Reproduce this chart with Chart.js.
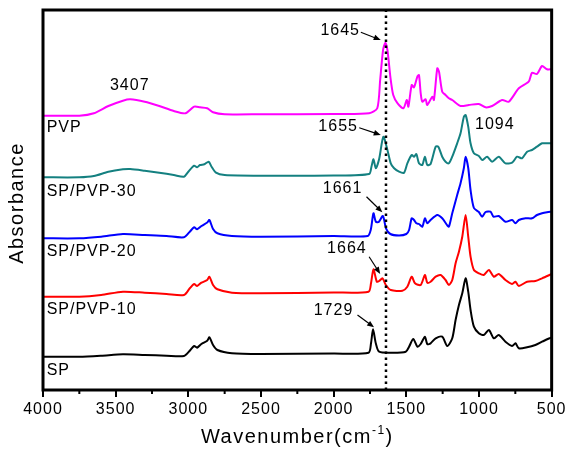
<!DOCTYPE html>
<html>
<head>
<meta charset="utf-8">
<script src="https://cdn.jsdelivr.net/npm/chart.js@4.4.1/dist/chart.umd.min.js"></script>
<style>
  html, body { margin: 0; padding: 0; background: #fff; }
</style>
</head>
<body>
<canvas id="ftir" width="568" height="457"></canvas>
<script>
// ---- data (wavenumber in cm-1, absorbance in stacked arbitrary units) ----
const xTickLabels = [4000, 3500, 3000, 2500, 2000, 1500, 1000, 500];
const xMinorTicks = [3750, 3250, 2750, 2250, 1750, 1250, 750];

const pvpWn  = [4000, 3750, 3650, 3550, 3450, 3400, 3300, 3200, 3100, 3020, 2960, 2920, 2870, 2830, 2750, 2500, 2000, 1756, 1700, 1680, 1660, 1645, 1630, 1610, 1590, 1560, 1520, 1497, 1486, 1463, 1447, 1424, 1413, 1401, 1390, 1367, 1356, 1321, 1310, 1287, 1275, 1253, 1230, 1207, 1184, 1127, 1070, 1001, 955, 910, 841, 795, 726, 658, 635, 601, 566, 532, 500];
const pvpAbs = [274.3, 274.3, 276.7, 284, 289.3, 290.7, 288.3, 284, 279, 276.7, 283.3, 282.7, 281.7, 277.7, 275.7, 275.7, 276, 276.7, 281.7, 310, 340, 347.3, 340, 313.3, 295, 286.7, 281.7, 290, 283.3, 305, 302.7, 313.3, 315, 296.7, 288.3, 290.7, 285, 293.3, 290, 321.7, 318.3, 298.3, 295, 291.7, 290, 284, 285, 286, 282.7, 284, 290, 288.3, 301.7, 308.3, 317.3, 316, 324, 320.7, 320.7];

const pvp30Wn  = [4000, 3750, 3650, 3550, 3450, 3400, 3300, 3200, 3100, 3030, 3000, 2960, 2940, 2920, 2890, 2860, 2840, 2810, 2750, 2500, 2000, 1756, 1740, 1726, 1710, 1687, 1658, 1630, 1607, 1584, 1550, 1516, 1493, 1463, 1447, 1431, 1413, 1390, 1372, 1356, 1333, 1298, 1280, 1253, 1230, 1207, 1184, 1150, 1127, 1104, 1092, 1074, 1058, 1035, 1001, 978, 944, 910, 864, 818, 772, 738, 704, 669, 635, 601, 566, 532, 500];
const pvp30Abs = [212.7, 212.7, 214, 218.3, 220.7, 221, 219.3, 217.3, 215, 213.3, 218.3, 224.3, 222.7, 225, 225.7, 228.3, 223.3, 217.3, 215, 214.3, 214.5, 216, 223.3, 230.7, 221.7, 231, 253.3, 240, 226.7, 221.7, 218.3, 217.3, 226.7, 235, 233.3, 236, 226.7, 225, 233.3, 225, 226, 243.3, 243.3, 233.3, 228.3, 226.7, 233.3, 246.7, 256.7, 273.3, 275, 263.3, 246.7, 236.7, 234, 230, 233.3, 228.3, 233.3, 226.7, 227.3, 233.3, 231.7, 238.3, 240, 243.3, 246.7, 246.7, 246.7];

const pvp20Wn  = [4000, 3750, 3600, 3450, 3300, 3150, 3030, 2990, 2960, 2940, 2910, 2870, 2855, 2830, 2800, 2700, 2500, 2000, 1766, 1745, 1726, 1710, 1690, 1661, 1640, 1610, 1550, 1500, 1481, 1463, 1447, 1431, 1413, 1390, 1372, 1356, 1333, 1287, 1253, 1220, 1207, 1184, 1150, 1127, 1104, 1092, 1074, 1058, 1035, 1001, 978, 955, 921, 900, 864, 818, 772, 749, 726, 680, 635, 601, 566, 532, 500];
const pvp20Abs = [151.7, 151.7, 153.3, 156, 155, 154, 152.7, 158.3, 162.7, 160.7, 164, 167.5, 170, 161, 156.7, 154, 153.3, 154, 154, 160, 176.7, 168.3, 168, 174, 161.7, 156, 154.5, 156, 160, 171.7, 170, 166.7, 166, 163.3, 171.7, 166.7, 170, 175, 171.7, 165, 163.3, 176.7, 195, 206.7, 222, 233.3, 222, 200, 182, 178, 173.3, 178, 178.3, 173.3, 174, 168.3, 170, 166.7, 170, 171.7, 171.7, 175, 176.7, 177.7, 178.3];

const pvp10Wn  = [4000, 3750, 3600, 3450, 3300, 3150, 3030, 2990, 2960, 2940, 2910, 2870, 2855, 2830, 2800, 2700, 2500, 2000, 1760, 1743, 1726, 1703, 1687, 1664, 1641, 1607, 1527, 1493, 1463, 1440, 1401, 1372, 1356, 1333, 1298, 1264, 1230, 1207, 1184, 1161, 1138, 1115, 1092, 1074, 1058, 1035, 1001, 967, 932, 898, 864, 818, 772, 749, 726, 669, 612, 566, 500];
const pvp10Abs = [93.3, 93.3, 95, 98.3, 97.3, 96, 95, 101.7, 106, 104, 107.3, 110, 113.3, 105, 100.7, 97.3, 96.7, 97.5, 98.3, 106.7, 120.7, 108.3, 109, 111.7, 105, 100, 99.3, 103.3, 113.3, 106.7, 105, 115, 107.3, 108.3, 113.3, 115, 110, 105, 110, 126.7, 138.3, 153.3, 175, 153.3, 133.3, 120, 116.7, 115, 120, 113.3, 116, 110, 106, 108.3, 104, 108.3, 109, 111.7, 116];

const spWn  = [4000, 3750, 3600, 3450, 3300, 3150, 3030, 2990, 2960, 2940, 2910, 2870, 2855, 2830, 2800, 2700, 2500, 2000, 1760, 1743, 1729, 1710, 1687, 1595, 1504, 1481, 1452, 1424, 1401, 1372, 1356, 1333, 1298, 1253, 1218, 1184, 1161, 1138, 1115, 1092, 1074, 1058, 1035, 1001, 967, 932, 898, 864, 818, 772, 749, 726, 669, 612, 566, 500];
const spAbs = [33.3, 33.3, 34.3, 35.7, 35, 34.3, 34, 39.3, 44, 42.3, 46, 49.3, 52.7, 45, 40, 36.7, 36, 36.5, 37.3, 46.7, 60.7, 46.7, 38.3, 37.3, 38.3, 43.3, 51, 43.3, 46, 53.3, 46, 46.7, 51.7, 53.3, 44, 51.7, 70, 85, 96.7, 111.7, 98.3, 80, 63.3, 56.7, 55, 60, 51.7, 55, 48.3, 44, 46.7, 41.7, 42.7, 45, 48.3, 52.7];

const markerWn = 1640;

const seriesNames  = ['PVP', 'SP/PVP-30', 'SP/PVP-20', 'SP/PVP-10', 'SP'];
const seriesColors = ['#ff00ff', '#148080', '#0000ff', '#ff0000', '#000000'];
const nameWn  = [3975, 3975, 3975, 3975, 3975];
const nameAbs = [262, 198.3, 138.3, 80.7, 19.3];

// peak labels: text, text centre, arrow start/end (null = no arrow)
const peakText = ['3407', '1645', '1655', '1094', '1661', '1664', '1729'];
const peakWn   = [3403, 1955, 1969, 891, 1939, 1909, 2001];
const peakAbs  = [304, 359.5, 263.3, 265.5, 201.2, 141.7, 79.2];
const arrowFrom = [null, [1813, 357.7], [1824, 262.3], null, [1774, 193.3], [1756, 133.3], [1836, 75]];
const arrowTo   = [null, [1676, 350], [1676, 255], null, [1665, 177.7], [1680, 116], [1722, 62.7]];

const FONT = 'Arial, "Liberation Sans", sans-serif';

function pts(wn, abs) {
  return wn.map((w, i) => ({ x: w, y: abs[i] }));
}

const allWn  = [pvpWn, pvp30Wn, pvp20Wn, pvp10Wn, spWn];
const allAbs = [pvpAbs, pvp30Abs, pvp20Abs, pvp10Abs, spAbs];

const datasets = [{
  label: 'marker',
  data: [{ x: markerWn, y: 0 }, { x: markerWn, y: 380 }],
  borderColor: '#000',
  borderWidth: 2.5,
  borderDash: [2.5, 3.5],
  pointRadius: 0,
  showLine: true
}];
seriesNames.forEach((n, i) => {
  datasets.push({
    label: n,
    data: pts(allWn[i], allAbs[i]),
    borderColor: seriesColors[i],
    borderWidth: 2,
    pointRadius: 0,
    showLine: true,
    tension: 0.25
  });
});

// frame, minor ticks, titles and peak notes
const decor = {
  id: 'decor',
  beforeDraw(chart) {
    chart.ctx.letterSpacing = '1px';
  },
  afterDraw(chart) {
    const { ctx, chartArea: a, scales } = chart;
    const px = v => scales.x.getPixelForValue(v);
    const py = v => scales.y.getPixelForValue(v);
    ctx.save();
    ctx.strokeStyle = '#000';
    ctx.lineWidth = 2;
    xMinorTicks.forEach(v => {
      ctx.beginPath();
      ctx.moveTo(px(v), a.bottom);
      ctx.lineTo(px(v), a.bottom + 4);
      ctx.stroke();
    });
    ctx.lineWidth = 3;
    ctx.strokeRect(a.left, a.top, a.right - a.left, a.bottom - a.top);

    ctx.fillStyle = '#000';
    ctx.letterSpacing = '1px';
    ctx.font = '16px ' + FONT;
    ctx.textBaseline = 'middle';
    ctx.textAlign = 'left';
    seriesNames.forEach((n, i) => ctx.fillText(n, px(nameWn[i]), py(nameAbs[i])));

    ctx.textAlign = 'center';
    peakText.forEach((t, i) => {
      ctx.fillText(t, px(peakWn[i]), py(peakAbs[i]));
      if (!arrowFrom[i]) return;
      const x1 = px(arrowFrom[i][0]), y1 = py(arrowFrom[i][1]);
      const x2 = px(arrowTo[i][0]), y2 = py(arrowTo[i][1]);
      const ang = Math.atan2(y2 - y1, x2 - x1);
      ctx.lineWidth = 1.2;
      ctx.beginPath();
      ctx.moveTo(x1, y1);
      ctx.lineTo(x2 - 5 * Math.cos(ang), y2 - 5 * Math.sin(ang));
      ctx.stroke();
      ctx.beginPath();
      ctx.moveTo(x2, y2);
      ctx.lineTo(x2 - 7 * Math.cos(ang) + 2.8 * Math.sin(ang), y2 - 7 * Math.sin(ang) - 2.8 * Math.cos(ang));
      ctx.lineTo(x2 - 7 * Math.cos(ang) - 2.8 * Math.sin(ang), y2 - 7 * Math.sin(ang) + 2.8 * Math.cos(ang));
      ctx.closePath();
      ctx.fill();
    });

    // x title with superscript
    ctx.letterSpacing = '1.5px';
    ctx.textAlign = 'left';
    ctx.textBaseline = 'alphabetic';
    const big = '20px ' + FONT, small = '12px ' + FONT;
    ctx.font = big;
    const w1 = ctx.measureText('Wavenumber(cm').width;
    const w3 = ctx.measureText(')').width;
    ctx.font = small;
    const w2 = ctx.measureText('-1').width;
    let x = (a.left + a.right) / 2 - (w1 + w2 + w3) / 2;
    const base = 443;
    ctx.font = big;
    ctx.fillText('Wavenumber(cm', x, base);
    x += w1;
    ctx.font = small;
    ctx.fillText('-1', x, base - 9);
    x += w2;
    ctx.font = big;
    ctx.fillText(')', x, base);

    // y title
    ctx.translate(17, 203);
    ctx.rotate(-Math.PI / 2);
    ctx.textAlign = 'center';
    ctx.textBaseline = 'middle';
    ctx.font = big;
    ctx.fillText('Absorbance', 0, 0);
    ctx.restore();
  }
};

new Chart(document.getElementById('ftir'), {
  type: 'scatter',
  data: { datasets },
  options: {
    responsive: false,
    animation: false,
    devicePixelRatio: 1,
    layout: { padding: { left: 43, right: 15, top: 10, bottom: 0 } },
    plugins: { legend: { display: false }, tooltip: { enabled: false } },
    scales: {
      x: {
        type: 'linear',
        reverse: true,
        min: 500,
        max: 4000,
        afterBuildTicks: s => { s.ticks = xTickLabels.map(v => ({ value: v })); },
        afterFit: s => { s.height = 67; },
        ticks: {
          autoSkip: false,
          maxRotation: 0,
          color: '#000',
          padding: 3,
          font: { family: FONT, size: 16 },
          callback: v => String(v)
        },
        grid: { drawOnChartArea: false, drawTicks: true, tickLength: 7, color: '#000', lineWidth: 2 },
        border: { display: false }
      },
      y: { display: false, min: 0, max: 380 }
    }
  },
  plugins: [decor]
});
</script>
</body>
</html>
